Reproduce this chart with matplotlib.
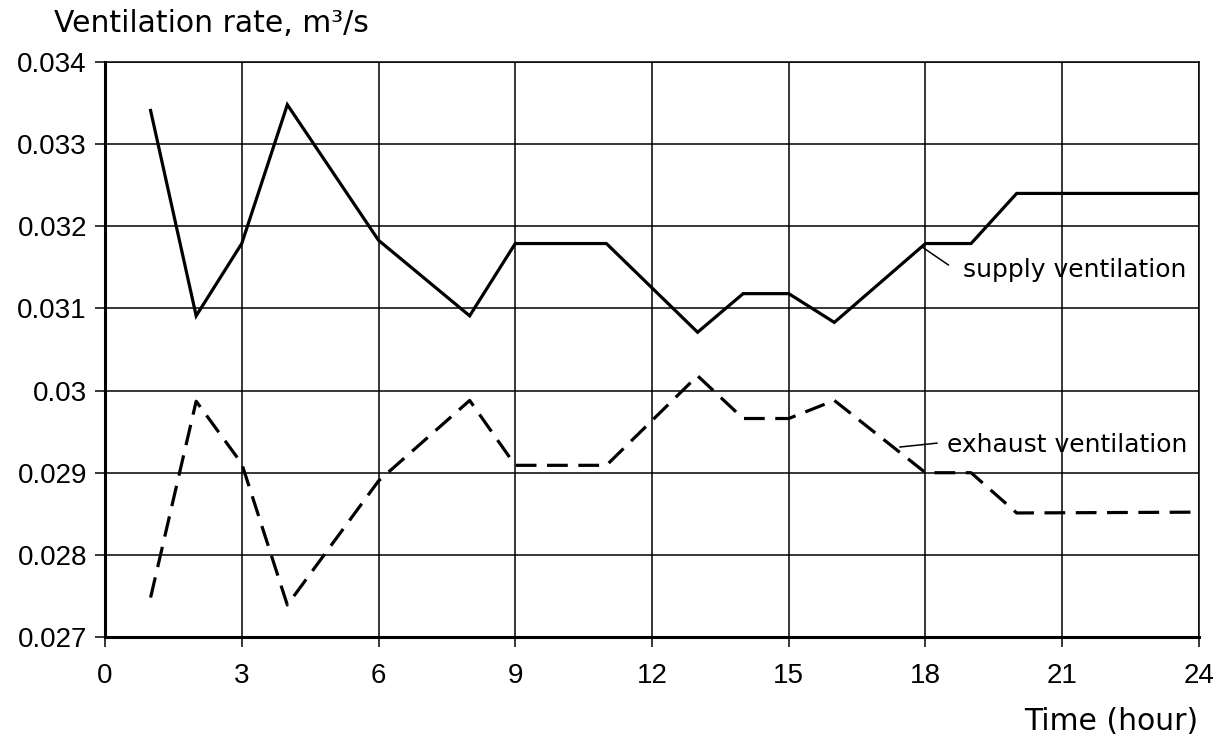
import matplotlib.pyplot as plt

plt.rcParams['font.family'] = ['Liberation Sans', 'DejaVu Sans']

hours = [1, 2, 3, 4, 6, 8, 9, 11, 13, 14, 15, 16, 18, 19, 20, 24]
supply = [0.03341, 0.03091, 0.03179, 0.03348, 0.03183, 0.03091, 0.03179, 0.03179,
          0.03071, 0.03118, 0.03118, 0.03083, 0.03179, 0.03179, 0.03240, 0.03240]
exhaust = [0.02748, 0.02987, 0.02911, 0.02739, 0.02890, 0.02988, 0.02909, 0.02909,
           0.03018, 0.02966, 0.02966, 0.02988, 0.02900, 0.02900, 0.02851, 0.02852]

xticks = [0, 3, 6, 9, 12, 15, 18, 21, 24]
yticks = [0.027, 0.028, 0.029, 0.030, 0.031, 0.032, 0.033, 0.034]
ylabels = ['0.027', '0.028', '0.029', '0.03', '0.031', '0.032', '0.033', '0.034']


def main():
    fig = plt.figure(figsize=(12.31, 7.46), dpi=100)
    ax = fig.add_axes([0.0853, 0.1461, 0.974 - 0.0853, 0.9169 - 0.1461])

    ax.plot(hours, supply, color='black', lw=2.3, solid_joinstyle='miter')
    ex, = ax.plot(hours, exhaust, color='black', lw=2.3)
    ex.set_dashes([6.5, 3.3])

    ax.set_xlim(0, 24)
    ax.set_ylim(0.027, 0.034)
    ax.set_xticks(xticks)
    ax.set_yticks(yticks)
    ax.set_yticklabels(ylabels)
    ax.grid(True, color='black', lw=1.1)
    ax.set_axisbelow(True)
    ax.tick_params(direction='out', length=7, width=1.1, labelsize=20, pad=6)
    ax.tick_params(axis='x', pad=12)
    for s in ['left', 'bottom']:
        ax.spines[s].set_linewidth(2.2)
    for s in ['top', 'right']:
        ax.spines[s].set_linewidth(1.1)

    # leader lines and labels
    ax.plot([17.92, 18.5], [0.03175, 0.03153], color='black', lw=1.1)
    ax.text(18.82, 0.03147, 'supply ventilation', fontsize=18, va='center', ha='left',
            family='DejaVu Sans')
    ax.plot([17.44, 18.25], [0.029313, 0.02936], color='black', lw=1.1)
    ax.text(18.47, 0.02934, 'exhaust ventilation', fontsize=18, va='center', ha='left',
            family='DejaVu Sans')

    fig.text(54 / 1231, 1 - 24 / 746, 'Ventilation rate, m³/s', fontsize=21.5,
             ha='left', va='center', family='DejaVu Sans')
    fig.text(1198 / 1231, 1 - 721 / 746, 'Time (hour)', fontsize=21.5,
             ha='right', va='center', family='DejaVu Sans')

    fig.savefig('out.png', dpi=100)


main()
